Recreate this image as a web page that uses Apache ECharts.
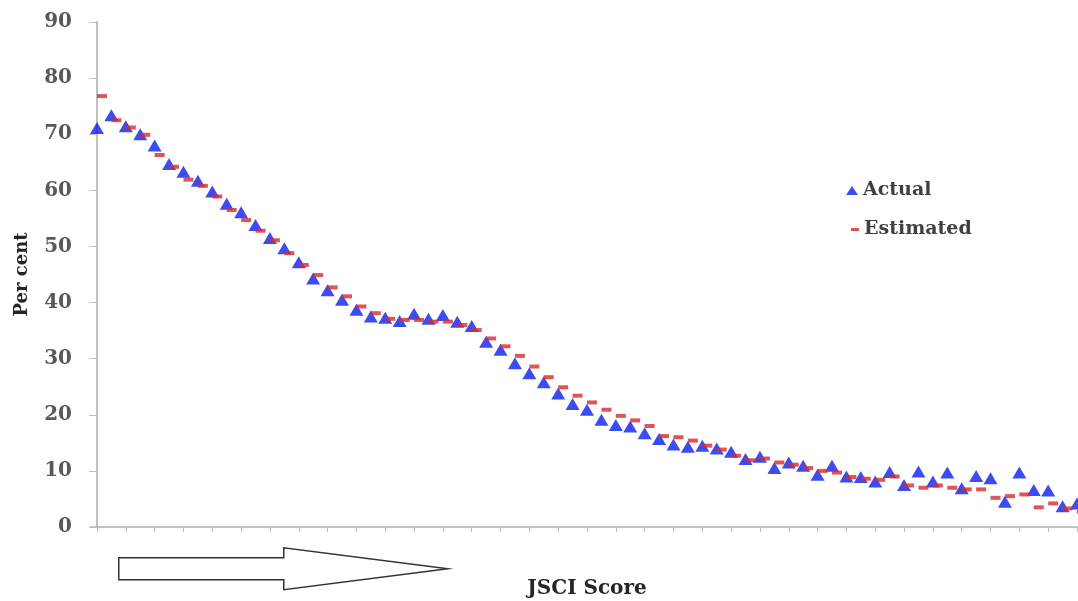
<!DOCTYPE html>
<html>
<head>
<meta charset="utf-8">
<script src="https://cdn.jsdelivr.net/npm/echarts@6/dist/echarts.min.js"></script>
<style>
html,body{margin:0;padding:0;background:#fff;}
#chart{width:1078px;height:601px;}
</style>
</head>
<body>
<div id="chart"></div>
<script>
var actual = [71.1,73.4,71.4,70.0,68.0,64.7,63.3,61.7,59.8,57.6,
  56.1,53.8,51.5,49.7,47.2,44.3,42.2,40.5,38.7,37.5,
  37.3,36.7,38.0,37.1,37.8,36.6,35.8,33.0,31.6,29.2,
  27.4,25.8,23.8,21.9,20.9,19.1,18.2,17.9,16.7,15.7,
  14.7,14.3,14.5,14.0,13.4,12.1,12.5,10.5,11.5,10.9,
  9.3,10.9,9.0,8.9,8.1,9.8,7.5,9.9,8.1,9.7,
  6.9,9.1,8.7,4.5,9.7,6.6,6.5,3.7,4.2];
var estimated = [76.8,72.5,71.2,69.9,66.3,64.2,61.9,60.8,58.9,56.5,
  54.7,52.8,51.1,48.8,46.7,44.9,42.7,41.1,39.3,38.1,
  37.1,36.9,36.9,36.6,36.6,36.0,35.1,33.6,32.2,30.5,
  28.6,26.7,24.9,23.4,22.2,20.9,19.8,19.0,18.0,16.2,
  16.0,15.4,14.5,13.8,12.7,11.9,12.2,11.5,11.1,10.5,
  10.0,9.7,8.9,8.6,8.4,9.0,7.4,7.0,7.4,7.0,
  6.7,6.7,5.2,5.5,5.8,3.5,4.2,3.3,2.7];
var categories = Array.from({length: actual.length}, function(_, i){ return String(i + 1); });
var yTicks = [0,10,20,30,40,50,60,70,80,90];

var chart = echarts.init(document.getElementById('chart'));
var serif = 'DejaVu Serif';
chart.setOption({
  animation: false,
  backgroundColor: '#ffffff',
  grid: {left: 97, right: 1, top: 22, bottom: 74, outerBoundsMode: 'none', containLabel: false},
  legend: [
    {data: ['Actual'], orient: 'vertical', left: 841, top: 176, icon: 'triangle',
     itemWidth: 12, itemHeight: 9, itemGap: 0,
     textStyle: {fontFamily: serif, fontSize: 19, fontWeight: 'bold', color: '#404040'}},
    {data: ['Estimated'], orient: 'vertical', left: 846, top: 215, icon: 'rect',
     itemWidth: 8, itemHeight: 3, itemGap: 0,
     textStyle: {fontFamily: serif, fontSize: 19, fontWeight: 'bold', color: '#404040'}}
  ],
  xAxis: {
    type: 'category', data: categories, boundaryGap: false,
    name: 'JSCI Score', nameLocation: 'middle', nameGap: 52,
    nameTextStyle: {fontFamily: serif, fontSize: 20, fontWeight: 'bold', color: '#262626'},
    axisLine: {lineStyle: {color: '#c0c0c0', width: 2}},
    axisTick: {show: true, alignWithLabel: true, length: 5, lineStyle: {color: '#c0c0c0', width: 1}},
    axisLabel: {show: false},
    splitLine: {show: false}
  },
  yAxis: {
    type: 'value', min: 0, max: 90, interval: 10,
    name: 'Per cent', nameLocation: 'middle', nameGap: 66, nameRotate: 90,
    nameTextStyle: {fontFamily: serif, fontSize: 18, fontWeight: 'bold', color: '#262626'},
    axisLine: {show: true, lineStyle: {color: '#c0c0c0', width: 2}},
    axisTick: {show: true, length: 8, lineStyle: {color: '#c0c0c0', width: 1}},
    axisLabel: {fontFamily: serif, fontSize: 20, fontWeight: 'bold', color: '#595959', margin: 25,
      formatter: function(v){ return yTicks.indexOf(v) >= 0 ? String(v) : ''; }},
    splitLine: {show: false}
  },
  series: [
    {name: 'Actual', type: 'scatter', data: actual, symbol: 'triangle', symbolSize: [14, 12],
     itemStyle: {color: '#0a1ff0'}, z: 3},
    {name: 'Estimated', type: 'scatter', data: estimated, symbol: 'rect', symbolSize: [10, 4],
     symbolOffset: [5, 0], itemStyle: {color: '#d42a30'}, z: 4}
  ],
  graphic: [
    {type: 'line', z: 1, shape: {x1: 90, y1: 527, x2: 97, y2: 527},
     style: {stroke: '#c0c0c0', lineWidth: 2}},
    {type: 'polygon', left: 118, top: 547, z: 10,
     shape: {points: [[0,10],[165,10],[165,0],[329,21],[165,42],[165,32],[0,32]]},
     style: {fill: '#ffffff', stroke: '#333333', lineWidth: 1.5}}
  ]
});
</script>
</body>
</html>
